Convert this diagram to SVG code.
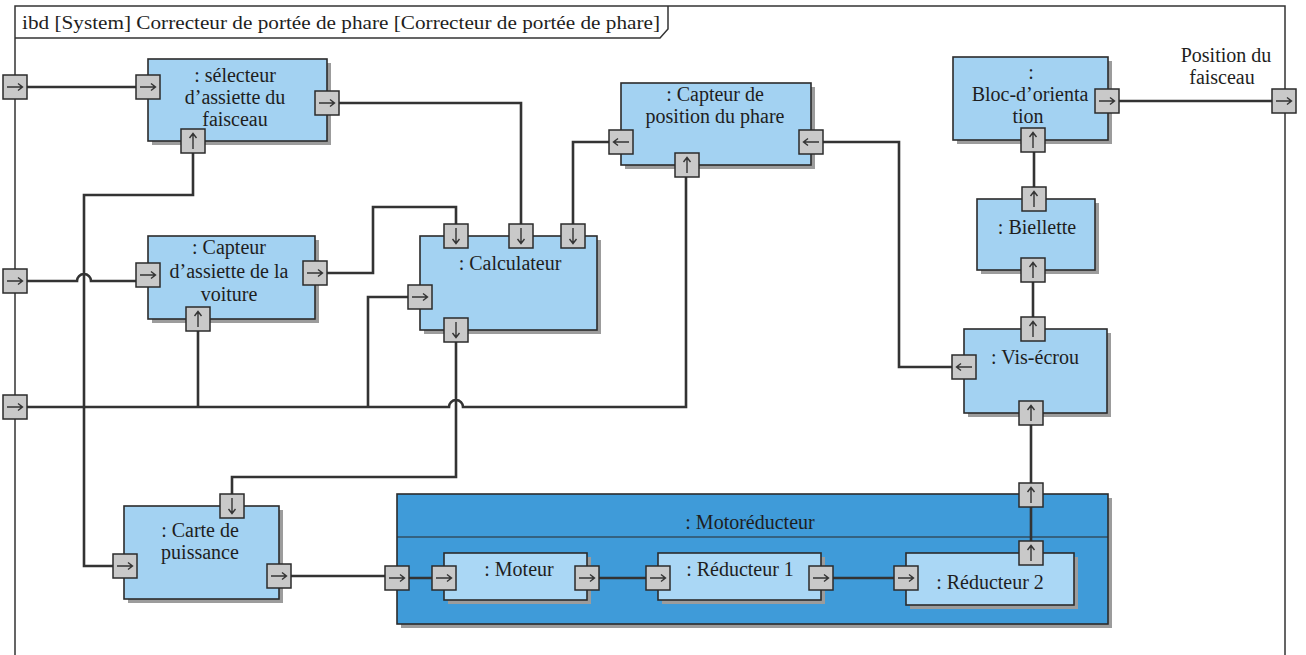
<svg xmlns="http://www.w3.org/2000/svg" width="1306" height="655" viewBox="0 0 1306 655" font-family="'Liberation Serif', 'Times New Roman', 'DejaVu Serif', serif">
<style>
.frame{fill:none;stroke:#333;stroke-width:1.5}
.blk{fill:#a3d2f2;stroke:#2b2b2b;stroke-width:1.6}
.inner{fill:#aad7f5;stroke:#2b2b2b;stroke-width:1.6}
.cont{fill:#3f9bd9;stroke:#2b2b2b;stroke-width:1.6}
.shd{fill:#9c9c9c}
.port{fill:#c9c9c9;stroke:#2b2b2b;stroke-width:1.5}
.parr{fill:none;stroke:#333;stroke-width:1.4}
.con{fill:none;stroke:#333;stroke-width:2.6}
.t{font-family:'Liberation Serif','Times New Roman','DejaVu Serif',serif;font-size:20px;fill:#1e1e1e;text-anchor:middle}
.hdr{font-family:'Liberation Serif','Times New Roman','DejaVu Serif',serif;font-size:19.5px;fill:#1e1e1e;text-anchor:start}
</style>
<defs>
<g id="pr"><rect x="-12" y="-12" width="24" height="24" class="port"/><path d="M-8,0 H7 M3,-3.5 L7.5,0 L3,3.5" class="parr"/></g>
<g id="pl"><use href="#pr" transform="rotate(180)"/></g>
<g id="pu"><use href="#pr" transform="rotate(-90)"/></g>
<g id="pd"><use href="#pr" transform="rotate(90)"/></g>
</defs>
<rect width="1306" height="655" fill="#fff"/>
<g id="frame">
<rect x="15" y="6" width="1270" height="660" class="frame"/>
<path d="M15,38 H660 L668,29 V6" class="frame"/>
<text x="22" y="29" class="hdr" textLength="638" lengthAdjust="spacingAndGlyphs">ibd [System] Correcteur de portée de phare [Correcteur de portée de phare]</text>
<text class="t" x="1226" y="62">Position du</text>
<text class="t" x="1222" y="84">faisceau</text>
</g>
<g id="motoreducteur">
<rect x="401" y="498" width="711" height="130" class="shd"/>
<rect x="397" y="494" width="711" height="130" class="cont"/>
<line x1="397" y1="537" x2="1108" y2="537" stroke="#2b2b2b" stroke-width="1.2"/>
<text class="t" x="750" y="529">: Motoréducteur</text>
</g>
<g id="connectors">
<path class="con" d="M15,87 H149"/>
<path class="con" d="M327,103 H521 V236"/>
<path class="con" d="M193,141 V195 H84 V566 H125"/>
<path class="con" d="M15,281 H77 A7,7 0 0 1 91,281 H140"/>
<path class="con" d="M315,273 H373 V207 H456 V236"/>
<path class="con" d="M15,407 H449 A7,7 0 0 1 463,407 H686 V165"/>
<path class="con" d="M198,407 V319"/>
<path class="con" d="M368,407 V297 H420"/>
<path class="con" d="M456,330 V477 H232 V506"/>
<path class="con" d="M573,236 V142 H621"/>
<path class="con" d="M811,142 H899 V367 H964"/>
<path class="con" d="M1033,329 V270"/>
<path class="con" d="M1034,199 V140"/>
<path class="con" d="M1107,101 H1284"/>
<path class="con" d="M1031,413 V495"/>
<path class="con" d="M1031,495 V553"/>
<path class="con" d="M279,576 H397"/>
<path class="con" d="M397,578 H444"/>
<path class="con" d="M587,578 H658"/>
<path class="con" d="M821,578 H906"/>
</g>
<g id="boundary-ports">
<use href="#pr" x="15" y="87"/>
<use href="#pr" x="15" y="281"/>
<use href="#pr" x="15" y="407"/>
<use href="#pr" x="1284" y="101"/>
</g>
<g id="motoreducteur-ports">
<use href="#pr" x="397" y="578"/>
<use href="#pu" x="1031" y="495"/>
</g>
<g id="selecteur">
<rect x="152" y="63" width="179" height="82" class="shd"/>
<rect x="148" y="59" width="179" height="82" class="blk"/>
<text class="t" x="235" y="82">: sélecteur</text>
<text class="t" x="235" y="104">d’assiette du</text>
<text class="t" x="235" y="126">faisceau</text>
<use href="#pr" x="148" y="87"/>
<use href="#pr" x="327" y="103"/>
<use href="#pu" x="193" y="141"/>
</g>
<g id="capteur-assiette">
<rect x="152" y="240" width="167" height="83" class="shd"/>
<rect x="148" y="236" width="167" height="83" class="blk"/>
<text class="t" x="229" y="254">: Capteur</text>
<text class="t" x="229" y="278">d’assiette de la</text>
<text class="t" x="229" y="301">voiture</text>
<use href="#pr" x="148" y="275"/>
<use href="#pr" x="315" y="273"/>
<use href="#pu" x="198" y="319"/>
</g>
<g id="calculateur">
<rect x="424" y="240" width="177" height="94" class="shd"/>
<rect x="420" y="236" width="177" height="94" class="blk"/>
<text class="t" x="510" y="270">: Calculateur</text>
<use href="#pd" x="456" y="236"/>
<use href="#pd" x="521" y="236"/>
<use href="#pd" x="573" y="236"/>
<use href="#pr" x="420" y="297"/>
<use href="#pd" x="456" y="330"/>
</g>
<g id="capteur-position">
<rect x="625" y="87" width="190" height="82" class="shd"/>
<rect x="621" y="83" width="190" height="82" class="blk"/>
<text class="t" x="715" y="101">: Capteur de</text>
<text class="t" x="715" y="123">position du phare</text>
<use href="#pl" x="621" y="142"/>
<use href="#pl" x="811" y="142"/>
<use href="#pu" x="687" y="165"/>
</g>
<g id="bloc-orientation">
<rect x="957" y="61" width="155" height="83" class="shd"/>
<rect x="953" y="57" width="155" height="83" class="blk"/>
<text class="t" x="1031" y="79">:</text>
<text class="t" x="1030" y="101">Bloc-d’orienta</text>
<text class="t" x="1028" y="123">tion</text>
<use href="#pr" x="1107" y="101"/>
<use href="#pu" x="1033" y="140"/>
</g>
<g id="biellette">
<rect x="981" y="203" width="118" height="71" class="shd"/>
<rect x="977" y="199" width="118" height="71" class="blk"/>
<text class="t" x="1037" y="234">: Biellette</text>
<use href="#pu" x="1034" y="199"/>
<use href="#pu" x="1033" y="270"/>
</g>
<g id="vis-ecrou">
<rect x="968" y="333" width="143" height="84" class="shd"/>
<rect x="964" y="329" width="143" height="84" class="blk"/>
<text class="t" x="1035" y="364">: Vis-écrou</text>
<use href="#pu" x="1033" y="329"/>
<use href="#pl" x="964" y="367"/>
<use href="#pu" x="1031" y="413"/>
</g>
<g id="carte-puissance">
<rect x="128" y="510" width="155" height="93" class="shd"/>
<rect x="124" y="506" width="155" height="93" class="blk"/>
<text class="t" x="200" y="537">: Carte de</text>
<text class="t" x="200" y="559">puissance</text>
<use href="#pd" x="232" y="506"/>
<use href="#pr" x="125" y="566"/>
<use href="#pr" x="279" y="576"/>
</g>
<g id="moteur">
<rect x="448" y="557" width="143" height="47" class="shd"/>
<rect x="444" y="553" width="143" height="47" class="inner"/>
<text class="t" x="519" y="576">: Moteur</text>
<use href="#pr" x="444" y="578"/>
<use href="#pr" x="587" y="578"/>
</g>
<g id="reducteur-1">
<rect x="662" y="557" width="163" height="47" class="shd"/>
<rect x="658" y="553" width="163" height="47" class="inner"/>
<text class="t" x="740" y="576">: Réducteur 1</text>
<use href="#pr" x="658" y="578"/>
<use href="#pr" x="821" y="578"/>
</g>
<g id="reducteur-2">
<rect x="910" y="557" width="168" height="52" class="shd"/>
<rect x="906" y="553" width="168" height="52" class="inner"/>
<text class="t" x="990" y="589">: Réducteur 2</text>
<use href="#pr" x="906" y="578"/>
<use href="#pu" x="1031" y="553"/>
</g>
</svg>
